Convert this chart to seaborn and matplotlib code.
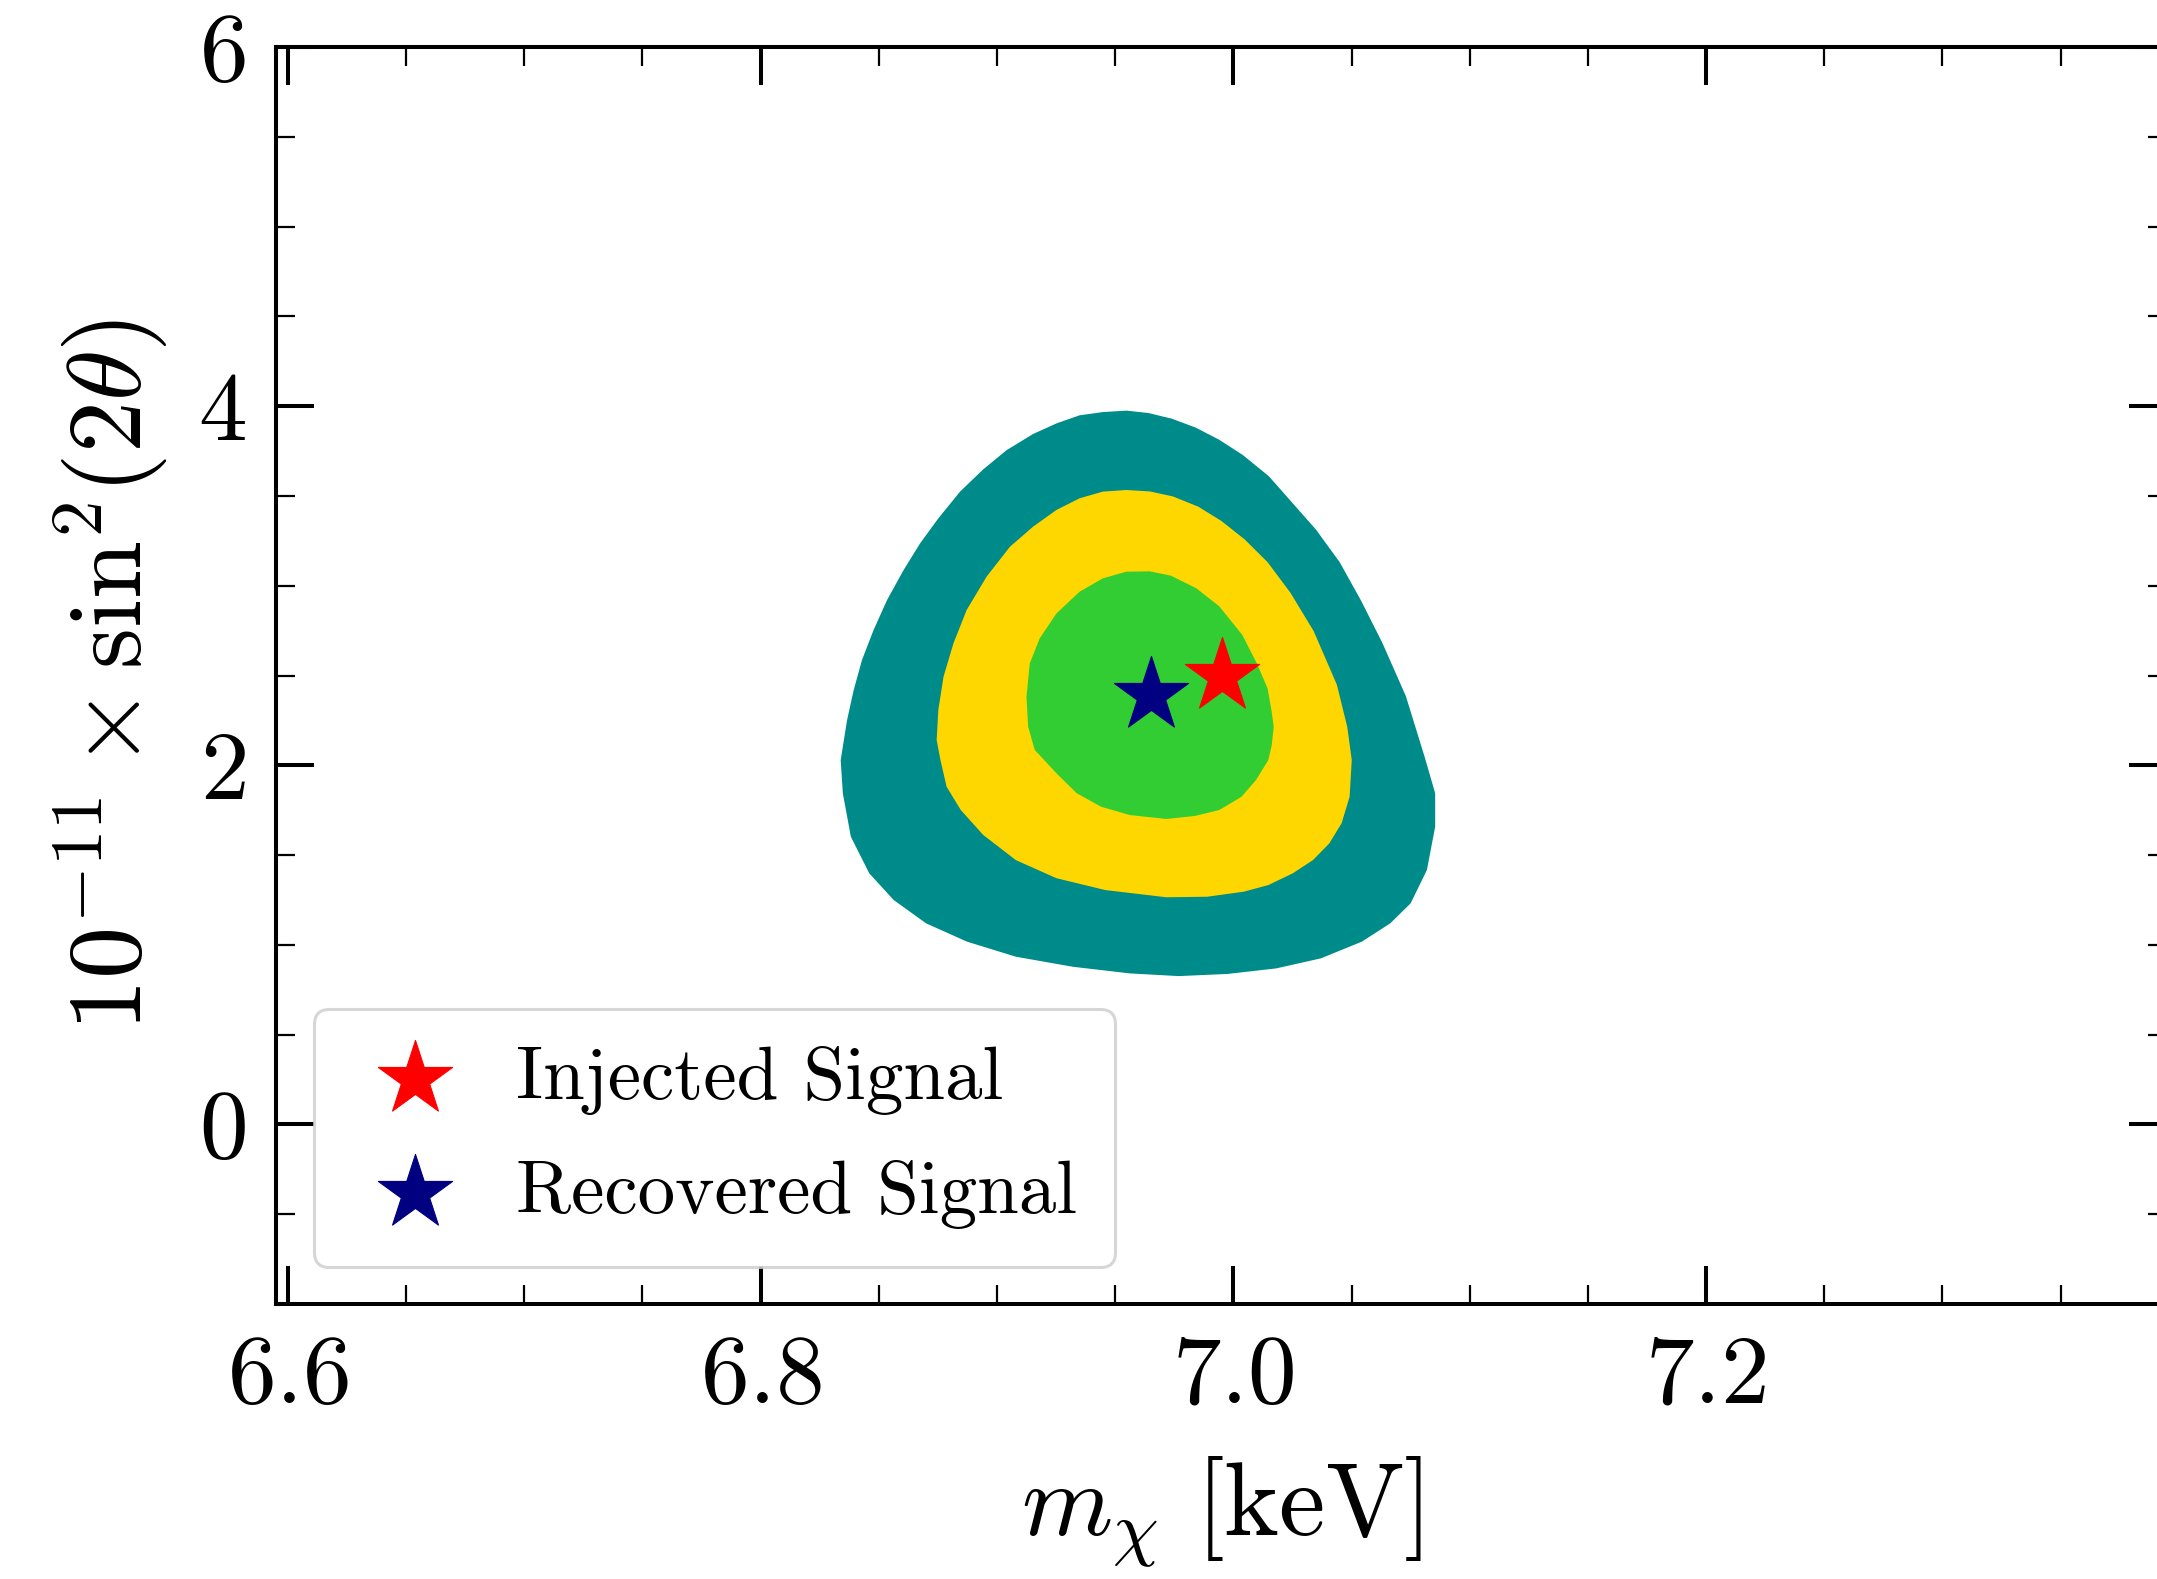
import matplotlib
matplotlib.use("Agg")
import matplotlib.pyplot as plt
from matplotlib.ticker import MultipleLocator
import seaborn as sns

# Credible-region boundaries: dark-matter mass m_chi [keV] and mixing 1e11*sin^2(2theta),
# traced clockwise from the top of each region
outer_m = [6.9547, 6.964, 6.974, 6.984, 6.994, 7.004, 7.015, 7.024, 7.035, 7.045,
           7.054, 7.063, 7.073, 7.081, 7.0854, 7.0854, 7.0819, 7.0750, 7.0664, 7.0544,
           7.0371, 7.0182, 6.9975, 6.9769, 6.9562, 6.9321, 6.9080, 6.8873, 6.8700, 6.8563,
           6.8460, 6.8382, 6.8348, 6.8339, 6.8366, 6.8394, 6.8429, 6.8478, 6.8535, 6.8605,
           6.8675, 6.8752, 6.8844, 6.8942, 6.9041, 6.9153, 6.9252, 6.9350, 6.9448]
outer_s = [3.975, 3.962, 3.930, 3.881, 3.813, 3.728, 3.610, 3.476, 3.312, 3.131,
           2.918, 2.683, 2.385, 2.044, 1.844, 1.658, 1.417, 1.231, 1.120, 1.018,
           0.925, 0.869, 0.838, 0.826, 0.841, 0.878, 0.934, 1.018, 1.120, 1.250,
           1.398, 1.602, 1.844, 2.029, 2.252, 2.419, 2.586, 2.753, 2.920, 3.087,
           3.236, 3.375, 3.524, 3.648, 3.755, 3.845, 3.904, 3.949, 3.967]

middle_m = [6.9547, 6.9647, 6.9745, 6.9852, 6.9949, 7.0047, 7.0145, 7.0242, 7.0340, 7.0438,
            7.0482, 7.0501, 7.0492, 7.0458, 7.0406, 7.0337, 7.0251, 7.0148, 7.0044, 6.9889,
            6.9717, 6.9459, 6.9252, 6.9080, 6.8942, 6.8847, 6.8787, 6.8761, 6.8745, 6.8752,
            6.8774, 6.8816, 6.8872, 6.8956, 6.9055, 6.9153, 6.9252, 6.9350, 6.9448]
middle_s = [3.533, 3.525, 3.497, 3.440, 3.361, 3.259, 3.131, 2.960, 2.747, 2.449,
            2.214, 2.029, 1.825, 1.677, 1.565, 1.472, 1.398, 1.333, 1.296, 1.268,
            1.265, 1.305, 1.371, 1.472, 1.612, 1.751, 1.881, 2.029, 2.141, 2.308,
            2.493, 2.679, 2.865, 3.050, 3.217, 3.329, 3.422, 3.487, 3.524]

inner_m = [6.9646, 6.9736, 6.9843, 6.9940, 7.0038, 7.0100, 7.0145, 7.0162, 7.0171, 7.0162,
           7.0148, 7.0096, 7.0035, 6.9941, 6.9838, 6.9717, 6.9562, 6.9441, 6.9338, 6.9252,
           6.9200, 6.9160, 6.9132, 6.9125, 6.9139, 6.9181, 6.9252, 6.9350, 6.9448, 6.9547]
inner_s = [3.080, 3.056, 2.986, 2.886, 2.726, 2.566, 2.428, 2.300, 2.214, 2.108,
           2.029, 1.918, 1.825, 1.751, 1.718, 1.701, 1.723, 1.769, 1.844, 1.955,
           2.029, 2.085, 2.215, 2.382, 2.568, 2.707, 2.846, 2.967, 3.041, 3.078]

region_colors = ["#008B8B", "#FFD700", "#32CD32"]

injected_m = [6.995]
injected_s = [2.50]
recovered_m = [6.965]
recovered_s = [2.39]

sns.set_style("ticks")
plt.rcParams.update({
    "font.family": "serif",
    "font.serif": ["cmr10"],
    "mathtext.fontset": "cm",
    "axes.formatter.use_mathtext": True,
    "axes.unicode_minus": True,
    "axes.linewidth": 1.45,
    "axes.edgecolor": "black",
    "text.color": "black",
    "axes.labelcolor": "black",
    "xtick.color": "black",
    "ytick.color": "black",
})

fig = plt.figure(figsize=(2157 / 200, 1579 / 200), dpi=200)
ax = fig.add_axes([276 / 2157, 1 - 1304 / 1579, 1891 / 2157, 1257 / 1579])

for m_vals, s_vals, color in zip([outer_m, middle_m, inner_m],
                                 [outer_s, middle_s, inner_s],
                                 region_colors):
    ax.fill(m_vals, s_vals, color=color, linewidth=0, zorder=2)

star_size = 790
sns.scatterplot(x=injected_m, y=injected_s, marker="*", s=star_size, color="red",
                edgecolor="red", linewidth=0.4, label="Injected Signal", ax=ax, zorder=5)
sns.scatterplot(x=recovered_m, y=recovered_s, marker="*", s=star_size, color="navy",
                edgecolor="navy", linewidth=0.4, label="Recovered Signal", ax=ax, zorder=4)

ax.set_xlim(6.595, 7.395)
ax.set_ylim(-1, 6)
ax.xaxis.set_major_locator(MultipleLocator(0.2))
ax.xaxis.set_minor_locator(MultipleLocator(0.05))
ax.yaxis.set_major_locator(MultipleLocator(2))
ax.yaxis.set_minor_locator(MultipleLocator(0.5))
ax.tick_params(which="both", direction="in", top=True, right=True, colors="black")
ax.tick_params(which="major", length=13.7, width=1.45, labelsize=35, pad=11)
ax.tick_params(which="minor", length=6.8, width=0.8)

ax.set_xlabel(r"$m_\chi\ [\mathrm{keV}]$", fontsize=37.5, labelpad=12)
ax.set_ylabel(r"$10^{-11}\times\mathrm{sin}^2(2\theta)$", fontsize=37.5, labelpad=10)

leg = ax.legend(loc="lower left", fontsize=27, frameon=True, fancybox=True,
                edgecolor="0.8", framealpha=0.8, scatterpoints=1,
                handlelength=1.7, handletextpad=0.5, labelspacing=0.6,
                borderpad=0.5)
leg.get_frame().set_linewidth(1.1)

fig.savefig("out.png", dpi=200)
